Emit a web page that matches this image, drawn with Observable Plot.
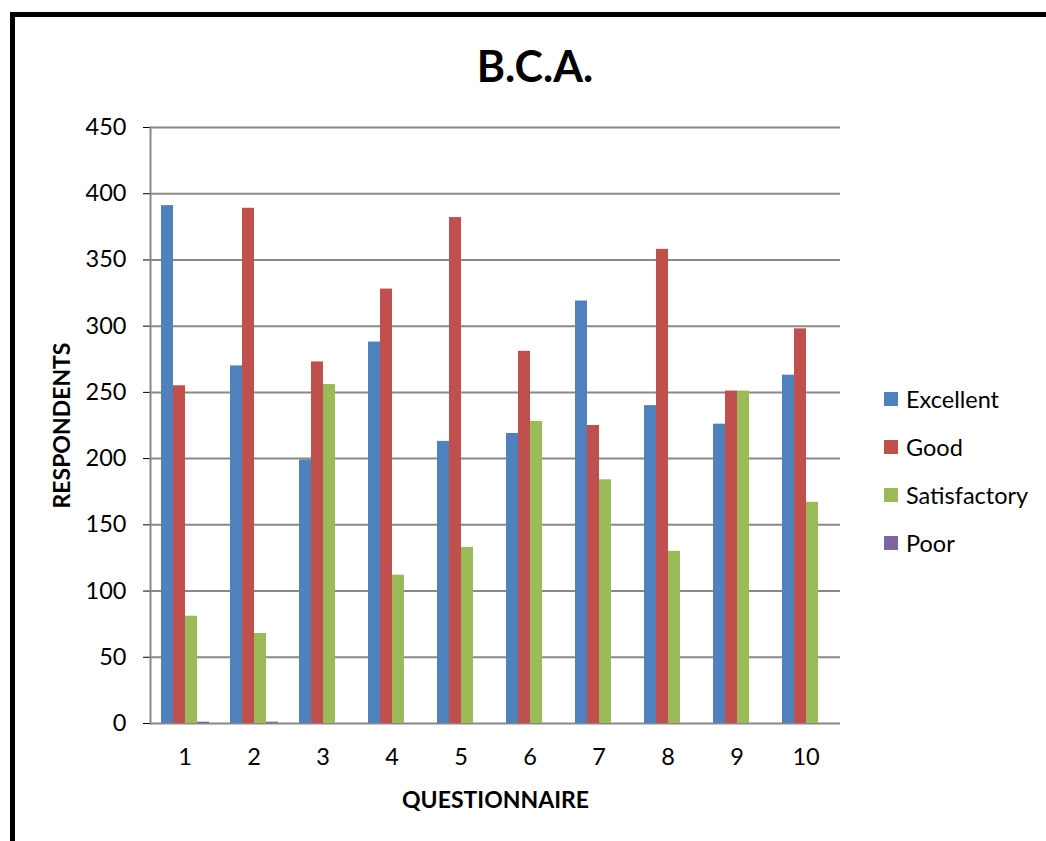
<!DOCTYPE html>
<html>
<head>
<meta charset="utf-8">
<script src="https://cdn.jsdelivr.net/npm/d3@7"></script>
<script src="https://cdn.jsdelivr.net/npm/@observablehq/plot@0.6"></script>
<style>
  html, body { margin: 0; padding: 0; background: #fff; overflow: hidden; }
  #wrap { position: relative; width: 1046px; height: 841px; font-family: Lato, "Open Sans", sans-serif; }
  #chart { position: absolute; left: 0; top: 0; }
  #border { position: absolute; left: 10px; top: 12px; width: 1100px; height: 900px; border: 5px solid #000; pointer-events: none; }
  #title { position: absolute; left: 0; width: 1070px; top: 40px; text-align: center; font-size: 43px; font-weight: bold; color: #000; }
  #legend { position: absolute; left: 884px; top: 375px; }
  .li { display: flex; align-items: center; height: 48px; font-size: 23.5px; color: #000; }
  .sw { width: 14px; height: 14px; margin-right: 8px; }
  svg g[aria-label="y-axis label"], svg g[aria-label="fx-axis label"] { font-weight: bold; font-size: 23px; }
</style>
</head>
<body>
<div id="wrap">
  <div id="chart"></div>
  <div id="title"></div>
  <div id="legend"></div>
  <div id="border"></div>
</div>
<script>
const title = "B.C.A.";
const questions = ["1", "2", "3", "4", "5", "6", "7", "8", "9", "10"];
const series = ["Excellent", "Good", "Satisfactory", "Poor"];
const colors = ["#4F81BD", "#C0504D", "#9BBB59", "#8064A2"];
const excellent = [391, 270, 199, 288, 213, 219, 319, 240, 226, 263];
const good = [255, 389, 273, 328, 382, 281, 225, 358, 251, 298];
const satisfactory = [81, 68, 256, 112, 133, 228, 184, 130, 251, 167];
const poor = [1, 1, 0, 0, 0, 0, 0, 0, 0, 0];
const yTicks = [0, 50, 100, 150, 200, 250, 300, 350, 400, 450];
const yLabel = "RESPONDENTS";
const xLabel = "QUESTIONNAIRE";

const valuesBySeries = [excellent, good, satisfactory, poor];
const data = [];
questions.forEach((q, i) => {
  series.forEach((s, j) => data.push({q, series: s, value: valuesBySeries[j][i]}));
});

document.getElementById("title").textContent = title;
const legend = document.getElementById("legend");
series.forEach((s, j) => {
  const row = document.createElement("div");
  row.className = "li";
  row.innerHTML = `<span class="sw" style="background:${colors[j]}"></span><span>${s}</span>`;
  legend.appendChild(row);
});

const chart = Plot.plot({
  width: 1046,
  height: 841,
  marginLeft: 148,
  marginRight: 204,
  marginTop: 127,
  marginBottom: 118,
  style: { fontFamily: "Lato, 'Open Sans', sans-serif", fontSize: "23.5px", color: "#000", background: "transparent" },
  fx: {
    domain: questions,
    padding: 0,
    tickSize: 0,
    tickPadding: 25,
    label: xLabel,
    labelAnchor: "center",
    labelOffset: 84
  },
  x: { domain: series, paddingInner: 0, paddingOuter: 0.776, axis: null },
  y: {
    domain: [0, 450],
    ticks: yTicks,
    tickSize: 7,
    tickPadding: 17,
    label: yLabel,
    labelAnchor: "center",
    labelOffset: 97,
    labelArrow: "none"
  },
  color: { domain: series, range: colors },
  marks: [
    Plot.gridY(yTicks, { stroke: "#888", strokeOpacity: 1, strokeWidth: 2 }),
    Plot.barY(data, { fx: "q", x: "series", y: "value", fill: "series", inset: 0 }),
    Plot.frame({ anchor: "left", facetAnchor: "left", stroke: "#888", strokeWidth: 2 })
  ]
});
document.getElementById("chart").appendChild(chart);
</script>
</body>
</html>
